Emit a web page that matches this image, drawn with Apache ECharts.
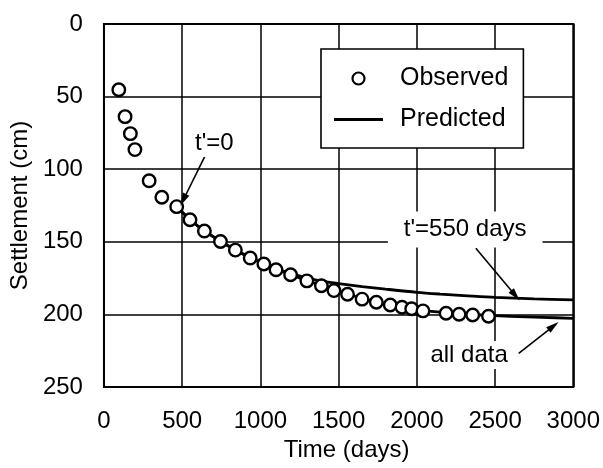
<!DOCTYPE html>
<html>
<head>
<meta charset="utf-8">
<title>Settlement vs time</title>
<script src="https://cdn.jsdelivr.net/npm/echarts@6/dist/echarts.min.js"></script>
<style>
  html, body { margin: 0; padding: 0; background: #ffffff; }
  #chart { width: 603px; height: 468px; }
</style>
</head>
<body>
<div id="chart"></div>
<script>
// Axis ticks
const timeTicks = [0, 500, 1000, 1500, 2000, 2500, 3000];
const settlementTicks = [0, 50, 100, 150, 200, 250];

// Observed settlement record
const observedDays = [95, 135, 169, 198, 289, 370, 465, 550, 642, 745, 840, 935, 1022, 1100,
  1193, 1297, 1390, 1470, 1557, 1650, 1741, 1830, 1905, 1967, 2039, 2187, 2270, 2357, 2458];
const observedCm = [45.3, 63.8, 75.5, 86.5, 108, 119.3, 125.8, 134.8, 142.6, 149.8, 155.7, 161.2,
  165.3, 169.3, 172.7, 176.9, 180.3, 183.6, 186.1, 189.5, 191.6, 193.5, 195.1, 196.1, 197.6,
  199.2, 199.9, 200.4, 201.3];

// Prediction fitted to all data
const fitAllDays = [465, 550, 642, 745, 840, 935, 1022, 1100, 1193, 1297, 1390, 1470, 1557,
  1650, 1741, 1830, 1905, 1967, 2039, 2187, 2270, 2357, 2458, 2600, 2800, 3000];
const fitAllCm = [125.8, 134.6, 142.5, 149.6, 155.6, 161, 165.1, 168.9, 172.6, 176.7, 180.1,
  183.2, 186, 189, 191.2, 193.2, 194.8, 195.9, 197.2, 198.8, 199.5, 200.1, 200.7, 201.3, 202, 202.7];

// Prediction fitted from t' = 550 days
const fit550Days = [465, 550, 642, 745, 840, 935, 1022, 1100, 1193, 1300, 1400, 1500, 1650,
  1800, 2000, 2150, 2300, 2500, 2750, 3000];
const fit550Cm = [125.8, 134.6, 142.5, 149.6, 155.5, 160.8, 164.8, 168.4, 171.8, 175, 177.3,
  178.8, 180.8, 182.6, 184.8, 186, 187, 188.3, 189.3, 190];

const zip = (xs, ys) => xs.map((x, i) => [x, ys[i]]);

const FONT = "'Liberation Sans', Arial, Helvetica, sans-serif";
const INK = '#000000';

const chart = echarts.init(document.getElementById('chart'), null, { renderer: 'canvas' });

const arrowStyle = { color: INK, width: 1.6, type: 'solid' };
const noteLabel = (padding) => ({
  show: true,
  position: 'inside',
  formatter: '{b}',
  color: INK,
  fontFamily: FONT,
  fontSize: 24,
  backgroundColor: '#ffffff',
  padding: padding
});

chart.setOption({
  backgroundColor: '#ffffff',
  animation: false,
  textStyle: { fontFamily: FONT, color: INK },
  grid: {
    left: 102, right: 28, top: 24, bottom: 81,
    show: true, borderColor: INK, borderWidth: 2, backgroundColor: 'transparent'
  },
  legend: {
    orient: 'vertical',
    left: 321, top: 49,
    padding: [17, 15, 16, 13],
    itemGap: 16,
    itemWidth: 49, itemHeight: 12,
    backgroundColor: '#ffffff',
    borderColor: INK, borderWidth: 1.6,
    textStyle: { fontFamily: FONT, fontSize: 25, color: INK, padding: [0, 0, 0, 12] },
    selectedMode: false,
    data: [
      { name: 'Observed', icon: 'circle',
        itemStyle: { color: '#ffffff', borderColor: INK, borderWidth: 2.2 } },
      { name: 'Predicted', icon: 'path://M0,0L49,0L49,2.8L0,2.8Z',
        itemStyle: { color: INK, borderWidth: 0 } }
    ]
  },
  xAxis: {
    type: 'value',
    min: timeTicks[0], max: timeTicks[timeTicks.length - 1],
    interval: timeTicks[1] - timeTicks[0],
    name: 'Time (days)',
    nameLocation: 'middle',
    nameGap: 48,
    nameTextStyle: { fontFamily: FONT, fontSize: 24, color: INK, padding: [0, 0, 0, 16] },
    axisLine: { show: true, lineStyle: { color: INK, width: 2 } },
    axisTick: { show: false },
    axisLabel: { fontFamily: FONT, fontSize: 24, color: INK, margin: 22,
      formatter: (v) => String(v) },
    splitLine: { show: true, lineStyle: { color: INK, width: 1.5 } }
  },
  yAxis: {
    type: 'value',
    inverse: true,
    min: settlementTicks[0], max: settlementTicks[settlementTicks.length - 1],
    interval: settlementTicks[1] - settlementTicks[0],
    name: 'Settlement (cm)',
    nameLocation: 'middle',
    nameGap: 67,
    nameTextStyle: { fontFamily: FONT, fontSize: 24, color: INK },
    axisLine: { show: true, lineStyle: { color: INK, width: 2 } },
    axisTick: { show: false },
    axisLabel: { fontFamily: FONT, fontSize: 24, color: INK, margin: 21,
      formatter: (v) => String(v) },
    splitLine: { show: true, lineStyle: { color: INK, width: 1.5 } }
  },
  series: [
    {
      name: 'Predicted',
      type: 'line',
      data: zip(fit550Days, fit550Cm),
      symbol: 'none',
      smooth: 0.3,
      lineStyle: { color: INK, width: 2.8 },
      itemStyle: { color: INK },
      z: 3,
      markLine: {
        silent: true,
        symbol: ['none', 'triangle'],
        symbolSize: [7, 13],
        lineStyle: arrowStyle,
        label: { show: false },
        data: [
          [{ coord: [644, 91.4] }, { coord: [507, 121.2] }],
          [{ coord: [2377, 154.5] }, { coord: [2630, 187] }],
          [{ coord: [2651, 226.8] }, { coord: [2873, 208] }]
        ]
      },
      markPoint: {
        silent: true,
        symbol: 'rect',
        symbolSize: 1,
        itemStyle: { color: 'rgba(0,0,0,0)' },
        data: [
          { name: "t'=0", coord: [706, 82], label: noteLabel([2, 2]) },
          { name: "t'=550 days", coord: [2309, 141.5], label: noteLabel([6, 16]) },
          { name: 'all data', coord: [2334, 228], label: noteLabel([2, 4]) }
        ]
      }
    },
    {
      name: 'Predicted',
      type: 'line',
      data: zip(fitAllDays, fitAllCm),
      symbol: 'none',
      smooth: 0.3,
      lineStyle: { color: INK, width: 2.8 },
      itemStyle: { color: INK },
      z: 3
    },
    {
      name: 'Observed',
      type: 'scatter',
      data: zip(observedDays, observedCm),
      symbol: 'circle',
      symbolSize: 12.5,
      itemStyle: { color: '#ffffff', borderColor: INK, borderWidth: 2.4, opacity: 1 },
      z: 4
    }
  ]
});
</script>
</body>
</html>
